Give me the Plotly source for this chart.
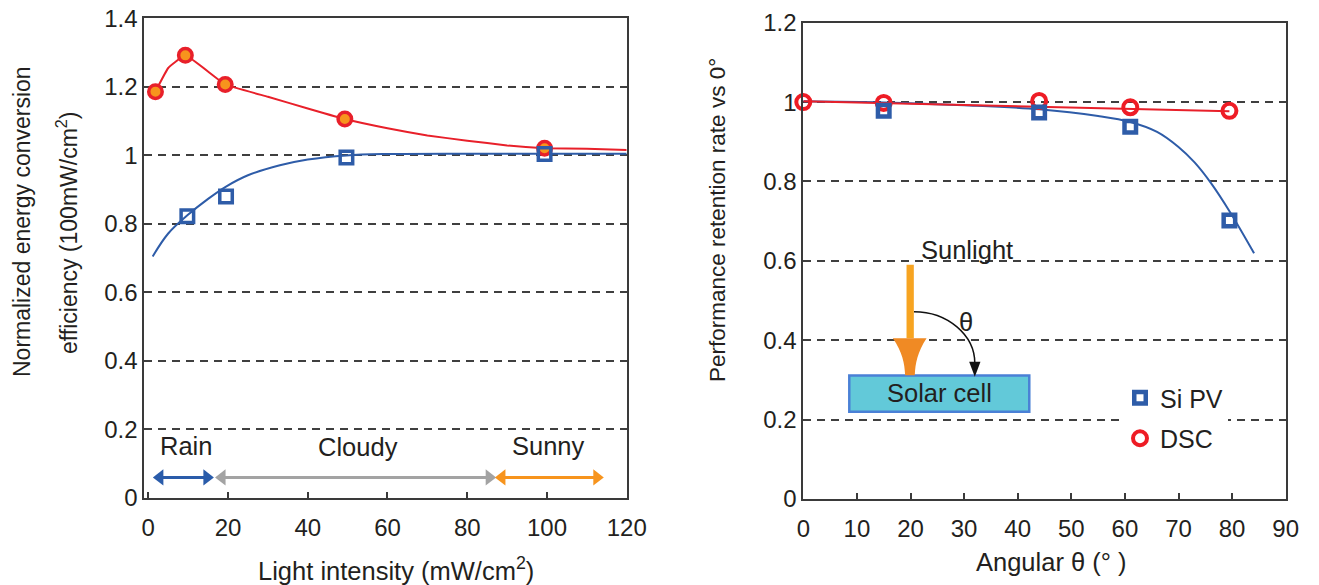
import plotly.graph_objects as go

W, H = 1319, 585

# ---------------- Left panel: efficiency vs light intensity ----------------
dsc_int_x = [1.8, 9.3, 19.3, 49.3, 99.4]
dsc_int_y = [1.186, 1.292, 1.207, 1.106, 1.021]
si_int_x = [9.8, 19.5, 49.7, 99.4]
si_int_y = [0.822, 0.880, 0.994, 1.004]

# trend curves
dsc_fit_x = [1.8, 5, 9.3, 19.3, 30, 40, 49.3, 60, 70, 80, 90, 99.4, 110, 120]
dsc_fit_y = [1.186, 1.255, 1.292, 1.207, 1.171, 1.137, 1.106, 1.079, 1.058, 1.043, 1.029, 1.021, 1.019, 1.016]
si_fit_x = [1.1, 5, 9.8, 15, 19.5, 25, 33, 40, 49.7, 60, 80, 100, 120]
si_fit_y = [0.705, 0.772, 0.825, 0.873, 0.909, 0.942, 0.971, 0.988, 1.0, 1.004, 1.005, 1.005, 1.005]

# weather ranges (x of the two arrow heads)
weather_labels = ["Rain", "Cloudy", "Sunny"]
weather_label_x = [9.4, 52.7, 100.5]
weather_label_y = [0.152, 0.150, 0.152]
weather_start = [2.9, 18.5, 88.7]
weather_end = [14.7, 85.5, 112.5]
weather_y = [0.06, 0.06, 0.06]
weather_colors = ["#2A5CAA", "#A3A3A3", "#F7941D"]

# ---------------- Right panel: retention vs angle ----------------
ang_si_x = [15, 44, 61, 79.5]
ang_si_y = [0.978, 0.974, 0.938, 0.702]
ang_dsc_x = [0, 15, 44, 61, 79.5]
ang_dsc_y = [1.0, 0.998, 1.003, 0.987, 0.978]

si_ang_fit_x = [0, 15, 30, 44, 55, 61, 66, 70, 73, 76, 79.6, 84.1]
si_ang_fit_y = [1.002, 0.999, 0.992, 0.982, 0.965, 0.950, 0.925, 0.887, 0.848, 0.797, 0.723, 0.619]
dsc_ang_fit_x = [0, 79.5]
dsc_ang_fit_y = [1.002, 0.977]

# inset diagram (data coordinates of right panel)
shaft_x = [19.26, 20.62]
shaft_y = [0.405, 0.590]
head_x = [16.7, 23.0, 19.9]
head_y = [0.405, 0.312]
cell_x = [8.58, 42.16]
cell_y = [0.220, 0.311]
arc_start = [20.65, 0.472]
arc_end = [32.0, 0.342]
arc_tip_y = 0.308

RED = "#E8202A"
BLUE = "#2E5CA8"
ORANGE = "#F7941D"
TXT = "#231F20"
FR = "#3A3A3A"
GR = "#3F3F3F"
FONT = "Liberation Sans, Arial, sans-serif"
FS = 25.5

fig = go.Figure()

# weather arrows
for s, e, yy, c in zip(weather_start, weather_end, weather_y, weather_colors):
    fig.add_trace(go.Scatter(x=[s, e], y=[yy, yy], mode="lines+markers",
                             line=dict(color=c, width=3),
                             marker=dict(symbol=["triangle-left", "triangle-right"], size=14, color=c),
                             showlegend=False, xaxis="x", yaxis="y", hoverinfo="skip"))

# left curves
fig.add_trace(go.Scatter(x=dsc_fit_x, y=dsc_fit_y, mode="lines",
                         line=dict(color=RED, width=2, shape="spline", smoothing=0.3),
                         showlegend=False, xaxis="x", yaxis="y", hoverinfo="skip"))
fig.add_trace(go.Scatter(x=si_fit_x, y=si_fit_y, mode="lines", line=dict(color=BLUE, width=2, shape="spline"),
                         showlegend=False, xaxis="x", yaxis="y", hoverinfo="skip"))
fig.add_trace(go.Scatter(x=dsc_int_x, y=dsc_int_y, mode="markers", name="DSC",
                         marker=dict(symbol="circle", size=13.5, color=ORANGE, line=dict(color=RED, width=3.5)),
                         showlegend=False, xaxis="x", yaxis="y", cliponaxis=False))
fig.add_trace(go.Scatter(x=si_int_x, y=si_int_y, mode="markers", name="Si PV",
                         marker=dict(symbol="square-open", size=12.5, color=BLUE, line=dict(width=3.5)),
                         showlegend=False, xaxis="x", yaxis="y", cliponaxis=False))

# right curves
fig.add_trace(go.Scatter(x=si_ang_fit_x, y=si_ang_fit_y, mode="lines", line=dict(color=BLUE, width=2, shape="spline"),
                         showlegend=False, xaxis="x2", yaxis="y2", hoverinfo="skip"))
fig.add_trace(go.Scatter(x=dsc_ang_fit_x, y=dsc_ang_fit_y, mode="lines", line=dict(color=RED, width=2),
                         showlegend=False, xaxis="x2", yaxis="y2", hoverinfo="skip"))
fig.add_trace(go.Scatter(x=ang_dsc_x, y=ang_dsc_y, mode="markers", name="DSC", legendrank=2, legendgroup="b",
                         marker=dict(symbol="circle-open", size=14, color="#EE1C25", line=dict(width=4)),
                         xaxis="x2", yaxis="y2", cliponaxis=False))
fig.add_trace(go.Scatter(x=ang_si_x, y=ang_si_y, mode="markers", name="Si PV", legendrank=1, legendgroup="a",
                         marker=dict(symbol="square-open", size=11.5, color=BLUE, line=dict(width=4.5)),
                         xaxis="x2", yaxis="y2", cliponaxis=False))


def px(x):
    return x / W


def py(y):
    return 1 - y / H


def tfont(size=FS):
    return dict(size=size, color=TXT, family=FONT)


annotations = []
for lab, lx, ly in zip(weather_labels, weather_label_x, weather_label_y):
    annotations.append(dict(x=lx, y=ly, xref="x", yref="y", text=lab, showarrow=False,
                            xanchor="center", yanchor="middle", font=tfont()))

# diagram texts
annotations.append(dict(x=30.6, y=0.627, xref="x2", yref="y2", text="Sunlight", showarrow=False,
                        xanchor="center", yanchor="middle", font=tfont()))
annotations.append(dict(x=30.35, y=0.447, xref="x2", yref="y2", text="θ", showarrow=False,
                        xanchor="center", yanchor="middle", font=tfont()))
annotations.append(dict(x=25.4, y=0.267, xref="x2", yref="y2", text="Solar cell", showarrow=False,
                        xanchor="center", yanchor="middle", font=tfont()))

# axis titles
annotations += [
    dict(x=px(22), y=py(222), xref="paper", yref="paper", text="Normalized energy conversion",
         textangle=-90, showarrow=False, xanchor="center", yanchor="middle", font=tfont(23)),
    dict(x=px(67), y=py(233), xref="paper", yref="paper", text="efficiency (100mW/cm<sup>2</sup>)",
         textangle=-90, showarrow=False, xanchor="center", yanchor="middle", font=tfont(23)),
    dict(x=px(717), y=py(220), xref="paper", yref="paper", text="Performance retention rate vs 0°",
         textangle=-90, showarrow=False, xanchor="center", yanchor="middle", font=tfont(22.5)),
    dict(x=px(395.5), y=py(569), xref="paper", yref="paper", text="Light intensity (mW/cm<sup>2</sup>)",
         showarrow=False, xanchor="center", yanchor="middle", font=tfont()),
    dict(x=px(1051.5), y=py(562), xref="paper", yref="paper", text="Angular θ (° )",
         showarrow=False, xanchor="center", yanchor="middle", font=tfont()),
]

shapes = []
# orange sunlight arrow
shapes.append(dict(type="rect", xref="x2", yref="y2", x0=shaft_x[0], x1=shaft_x[1], y0=shaft_y[0], y1=shaft_y[1],
                   fillcolor="#F7A421", line=dict(width=0)))
hx0, hx1, hc = head_x
hy0, hy1 = head_y
head_path = (f"M {hx0},{hy0} L {hx1},{hy0} C {hc+1.4},{hy0-0.035} {hc+1.0},{hy1+0.03} {hc+0.9},{hy1} "
             f"L {hc-0.9},{hy1} C {hc-1.0},{hy1+0.03} {hc-1.4},{hy0-0.035} {hx0},{hy0} Z")
shapes.append(dict(type="path", xref="x2", yref="y2", path=head_path, fillcolor="#F08A24", line=dict(width=0)))
# solar cell
shapes.append(dict(type="rect", xref="x2", yref="y2", x0=cell_x[0], x1=cell_x[1], y0=cell_y[0], y1=cell_y[1],
                   fillcolor="#62C9D9", line=dict(color="#4A80D6", width=2.5), layer="below"))
# theta arc
ax0, ay0 = arc_start
ax1, ay1 = arc_end
arc_path = f"M {ax0},{ay0} C {ax0 + 0.55*(ax1-ax0)},{ay0} {ax1},{ay1 + 0.55*(ay0-ay1)} {ax1},{ay1}"
shapes.append(dict(type="path", xref="x2", yref="y2", path=arc_path, line=dict(color="#111111", width=1.5)))
shapes.append(dict(type="path", xref="x2", yref="y2",
                   path=f"M {ax1-1.05},{ay1+0.004} L {ax1+1.05},{ay1+0.004} L {ax1},{arc_tip_y} Z",
                   fillcolor="#111111", line=dict(width=0)))

axis_common = dict(showline=True, mirror=True, linecolor=FR, linewidth=2, zeroline=False, automargin=False,
                   ticklabeloverflow="allow", tickfont=dict(size=24, color=TXT, family=FONT))

fig.update_layout(
    width=W, height=H, margin=dict(l=0, r=0, t=0, b=0, autoexpand=False),
    paper_bgcolor="white", plot_bgcolor="white",
    font=dict(family=FONT, size=24, color=TXT),
    xaxis=dict(domain=[px(144.3), px(626.7)], range=[-1, 120.0001], tick0=0, dtick=20,
               ticks="inside", ticklen=6, tickwidth=1.5, tickcolor=FR, ticklabelstandoff=7,
               showgrid=False, **axis_common),
    yaxis=dict(domain=[py(498), py(18.3)], range=[0, 1.4001], tick0=0, dtick=0.2, ticks="",
               showgrid=True, gridcolor=GR, gridwidth=1.5, griddash="8px,6px", **axis_common),
    xaxis2=dict(domain=[px(803.3), px(1285.7)], range=[0, 90.0001], tick0=0, dtick=10, anchor="y2",
                ticks="inside", ticklen=6, tickwidth=1.5, tickcolor=FR, ticklabelstandoff=7,
                showgrid=False, **axis_common),
    yaxis2=dict(domain=[py(499), py(22.7)], range=[0, 1.2001], tick0=0, dtick=0.2, ticks="", anchor="x2",
                showgrid=True, gridcolor=GR, gridwidth=1.5, griddash="8px,6px", **axis_common),
    showlegend=True,
    legend=dict(x=px(1120), y=py(375), xanchor="left", yanchor="top", bgcolor="white",
                font=tfont(25), tracegroupgap=5, borderwidth=0),
    annotations=annotations,
    shapes=shapes,
)

# remove the browser's default 8px page margin so the figure sits at the window origin
fig.write_html("out.html", config={"displayModeBar": False},
               post_script="document.body.style.margin='0px';")
